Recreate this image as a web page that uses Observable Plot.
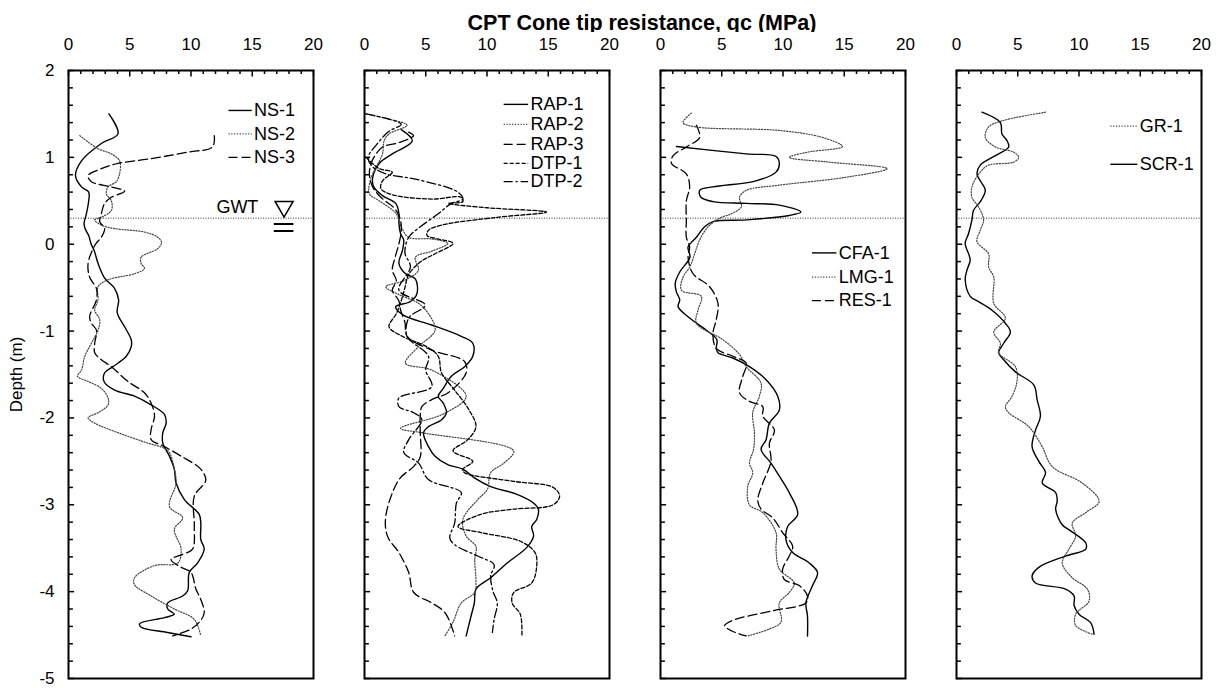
<!DOCTYPE html>
<html><head><meta charset="utf-8">
<script src="https://cdn.jsdelivr.net/npm/d3@7"></script>
<script src="https://cdn.jsdelivr.net/npm/@observablehq/plot@0.6"></script>
<style>
body{margin:0;background:#fff;font-family:Arial,"Liberation Sans",sans-serif;}
#wrap{position:relative;width:1219px;height:688px;}
#title{position:absolute;left:642px;top:11px;transform:translateX(-50%);font-weight:bold;font-size:21.5px;line-height:24px;white-space:nowrap;color:#000;}
#chart{position:absolute;left:0;top:32px;}
</style></head><body>
<div id="wrap">
<div id="title">CPT Cone tip resistance, qc (MPa)</div>
<div id="chart"></div>
</div>
<script>
// ---- data: [qc (MPa), depth (m)] ----
const NS1 = [[3.3,1.50],[4.04,1.27],[2.68,1.16],[1.06,0.96],[0.57,0.79],[1.06,0.66],[1.65,0.60],[1.65,0.50],[1.46,0.35],[1.27,0.24],[1.35,0.18],[1.65,0.10],[1.85,0.0],[2.09,-0.07],[2.41,-0.22],[2.95,-0.39],[3.77,-0.51],[4.09,-0.64],[3.98,-0.79],[4.58,-0.95],[5.12,-1.10],[5.12,-1.18],[4.72,-1.29],[3.63,-1.41],[2.95,-1.48],[2.9,-1.58],[3.77,-1.68],[5.39,-1.75],[6.75,-1.85],[7.83,-1.96],[7.97,-2.06],[7.7,-2.17],[7.7,-2.29],[8.24,-2.44],[8.64,-2.59],[8.78,-2.75],[9.46,-2.94],[10.67,-3.11],[10.8,-3.21],[10.8,-3.40],[11.08,-3.51],[10.54,-3.67],[9.86,-3.78],[9.73,-3.99],[9.32,-4.05],[8.1,-4.13],[8.1,-4.20],[8.64,-4.26],[7.83,-4.30],[5.8,-4.37],[5.93,-4.41],[8.1,-4.47],[10.0,-4.52]];
const NS2 = [[0.92,1.25],[2.41,1.10],[3.5,1.04],[4.17,0.96],[4.17,0.81],[3.9,0.72],[3.23,0.66],[3.09,0.58],[3.5,0.50],[3.5,0.39],[2.68,0.31],[2.14,0.28],[2.68,0.22],[3.77,0.18],[6.2,0.14],[7.29,0.08],[7.6,0.02],[7.29,-0.05],[5.93,-0.15],[5.93,-0.22],[6.2,-0.28],[5.39,-0.34],[3.23,-0.41],[2.41,-0.49],[2.41,-0.64],[2.14,-0.76],[2.55,-0.87],[2.41,-0.99],[1.87,-1.14],[1.33,-1.29],[1.06,-1.45],[0.73,-1.52],[1.6,-1.58],[2.68,-1.66],[3.23,-1.77],[3.23,-1.85],[2.55,-1.93],[1.6,-2.0],[2.14,-2.06],[4.04,-2.17],[6.48,-2.29],[7.83,-2.35],[8.24,-2.40],[8.64,-2.59],[8.78,-2.75],[8.24,-3.02],[9.32,-3.15],[8.64,-3.28],[9.19,-3.51],[8.92,-3.67],[7.02,-3.70],[5.39,-3.84],[5.39,-3.92],[6.75,-4.05],[8.64,-4.20],[10.27,-4.32],[10.8,-4.51]];
const NS3 = [[11.9,1.25],[11.76,1.12],[9.73,1.06],[6.48,0.98],[4.04,0.93],[2.68,0.87],[1.6,0.79],[1.87,0.72],[3.5,0.66],[4.58,0.61],[3.5,0.54],[2.95,0.47],[2.68,0.35],[2.55,0.26],[2.95,0.18],[2.68,0.08],[2.2,0.0],[1.6,-0.22],[1.73,-0.38],[2.28,-0.51],[2.28,-0.64],[1.73,-0.83],[1.87,-0.91],[2.28,-0.99],[2.14,-1.14],[2.14,-1.25],[2.68,-1.33],[3.5,-1.41],[4.85,-1.58],[6.2,-1.71],[6.75,-1.83],[7.02,-1.98],[6.75,-2.13],[6.75,-2.25],[7.83,-2.33],[9.19,-2.44],[10.8,-2.59],[11.2,-2.72],[10.27,-2.90],[10.27,-3.25],[10.13,-3.51],[9.32,-3.57],[8.37,-3.63],[9.19,-3.72],[10.0,-3.78],[10.4,-3.97],[10.8,-4.09],[11.08,-4.24],[10.8,-4.33],[10.0,-4.43],[8.51,-4.51]];

const RAP1 = [[3.0,1.32],[3.9,1.19],[2.27,1.04],[1.2,0.93],[0.67,0.77],[0.75,0.66],[1.47,0.56],[2.55,0.47],[2.81,0.35],[2.81,0.24],[2.95,0.12],[3.2,0.05],[3.1,-0.07],[2.81,-0.22],[3.35,-0.34],[4.15,-0.40],[4.28,-0.57],[3.75,-0.66],[2.55,-0.72],[3.2,-0.82],[5.49,-0.93],[7.9,-1.06],[8.84,-1.14],[8.84,-1.29],[8.17,-1.41],[7.09,-1.52],[6.43,-1.66],[6.02,-1.75],[6.43,-1.83],[6.69,-1.94],[6.3,-2.02],[5.22,-2.10],[4.82,-2.17],[5.22,-2.33],[5.76,-2.44],[6.83,-2.54],[8.03,-2.59],[8.97,-2.69],[10.3,-2.79],[12.45,-2.88],[13.8,-2.98],[14.19,-3.05],[14.06,-3.17],[13.65,-3.25],[13.8,-3.36],[13.25,-3.49],[11.65,-3.67],[10.3,-3.84],[9.1,-3.97],[8.97,-4.13],[8.7,-4.28],[8.3,-4.51]];
const RAP2 = [[0.1,1.50],[2.0,1.44],[3.48,1.37],[2.0,1.27],[1.6,1.19],[1.47,1.04],[1.0,0.9],[0.5,0.75],[0.4,0.58],[1.2,0.5],[2.6,0.35],[3.0,0.2],[3.6,0.08],[5.5,0.06],[6.8,0.01],[5.5,-0.08],[4.15,-0.15],[4.4,-0.30],[3.2,-0.42],[1.74,-0.49],[2.8,-0.58],[4.4,-0.68],[5.22,-0.80],[5.76,-0.99],[4.4,-1.18],[3.35,-1.37],[5.5,-1.45],[8.3,-1.75],[6.5,-1.95],[2.95,-2.12],[4.68,-2.17],[12.18,-2.38],[11.38,-2.52],[10.3,-2.63],[10.04,-2.82],[9.24,-2.94],[8.03,-3.17],[8.3,-3.36],[9.1,-3.48],[9.0,-3.63],[9.1,-3.89],[9.0,-4.01],[7.9,-4.13],[7.23,-4.35],[6.56,-4.51]];
const RAP3 = [[3.6,1.29],[4.0,1.25],[2.81,1.17],[1.47,1.12],[0.9,1.03],[0.54,0.93],[0.4,0.8],[0.7,0.65],[1.5,0.52],[2.4,0.42],[2.9,0.3],[3.0,0.15],[2.8,0.0],[2.5,-0.15],[2.27,-0.30],[2.6,-0.42],[2.27,-0.53],[2.8,-0.65],[2.95,-0.76],[3.3,-0.9],[3.48,-1.06],[5.49,-1.22],[8.17,-1.35],[8.3,-1.48],[6.83,-1.71],[5.49,-1.79],[4.68,-1.87],[4.55,-1.98],[4.55,-2.17],[4.55,-2.45],[4.0,-2.56],[2.81,-2.71],[1.74,-3.13],[1.87,-3.36],[2.81,-3.55],[3.61,-3.78],[4.02,-4.01],[5.49,-4.13],[6.56,-4.24],[7.23,-4.45],[7.36,-4.51]];
const DTP1 = [[0.13,1.0],[1.2,0.87],[2.27,0.83],[1.47,0.73],[1.34,0.64],[2.27,0.57],[5.49,0.52],[7.9,0.54],[8.03,0.49],[6.83,0.47],[10.0,0.42],[14.86,0.37],[10.84,0.31],[6.29,0.22],[5.22,0.16],[5.1,0.10],[6.02,0.06],[7.23,0.01],[5.76,-0.11],[4.6,-0.2],[3.6,-0.35],[3.3,-0.5],[3.0,-0.65],[2.6,-0.8],[2.0,-0.95],[3.08,-1.06],[5.09,-1.18],[6.02,-1.29],[6.29,-1.48],[7.36,-1.68],[8.5,-1.9],[9.1,-2.10],[8.43,-2.25],[7.23,-2.38],[8.84,-2.50],[8.03,-2.59],[8.17,-2.63],[12.18,-2.73],[15.4,-2.80],[15.93,-2.90],[15.4,-3.0],[12.18,-3.05],[9.5,-3.11],[7.63,-3.25],[9.5,-3.32],[12.72,-3.42],[13.92,-3.55],[14.06,-3.70],[13.65,-3.90],[12.18,-4.01],[12.05,-4.13],[12.72,-4.26],[12.85,-4.51]];
const DTP2 = [[0.1,1.5],[2.0,1.44],[3.0,1.38],[2.0,1.3],[1.0,1.15],[0.3,1.0],[0.6,0.9],[1.74,0.81],[4.15,0.75],[7.63,0.60],[8.03,0.52],[7.09,0.47],[6.02,0.35],[4.55,0.20],[3.61,0.08],[3.3,-0.1],[3.75,-0.26],[2.81,-0.53],[4.95,-0.70],[3.61,-0.85],[3.48,-1.06],[5.22,-1.29],[5.0,-1.45],[5.49,-1.64],[2.81,-1.77],[2.81,-1.87],[4.02,-1.94],[4.68,-2.02],[3.61,-2.25],[3.21,-2.40],[4.42,-2.52],[5.22,-2.71],[7.9,-2.86],[7.5,-2.98],[7.36,-3.21],[6.96,-3.38],[7.36,-3.46],[9.24,-3.59],[10.58,-3.69],[10.3,-3.82],[10.5,-4.0],[10.84,-4.13],[10.58,-4.32],[10.44,-4.47]];

const CFA1 = [[1.3,1.125],[7.0,1.04],[9.43,1.01],[9.7,0.93],[9.43,0.83],[7.8,0.73],[4.28,0.66],[3.2,0.62],[3.3,0.54],[4.28,0.49],[7.0,0.47],[9.7,0.45],[11.46,0.37],[10.5,0.33],[7.0,0.28],[4.28,0.26],[3.6,0.20],[2.93,0.08],[2.25,-0.03],[2.4,-0.15],[1.57,-0.32],[1.2,-0.45],[1.3,-0.55],[1.57,-0.64],[1.44,-0.72],[2.38,-0.85],[3.74,-0.99],[4.6,-1.1],[4.55,-1.2],[4.69,-1.25],[5.91,-1.31],[7.26,-1.41],[8.62,-1.56],[9.57,-1.75],[9.7,-1.91],[8.89,-2.06],[8.62,-2.25],[8.21,-2.36],[9.02,-2.52],[9.7,-2.67],[10.51,-2.86],[11.2,-3.11],[10.38,-3.25],[10.24,-3.40],[10.79,-3.55],[12.14,-3.67],[12.82,-3.78],[12.41,-3.93],[11.87,-4.13],[12.0,-4.28],[12.0,-4.51]];
const LMG1 = [[2.52,1.51],[1.84,1.40],[2.93,1.35],[9.7,1.31],[13.2,1.23],[14.85,1.125],[12.0,1.06],[10.51,1.0],[13.76,0.945],[18.5,0.87],[15.1,0.77],[9.7,0.68],[7.0,0.62],[6.45,0.54],[6.6,0.43],[5.77,0.35],[4.82,0.30],[3.88,0.20],[3.2,0.05],[2.79,-0.11],[2.4,-0.26],[1.84,-0.38],[1.71,-0.53],[3.33,-0.60],[3.06,-0.76],[2.93,-0.91],[5.1,-1.10],[6.45,-1.27],[7.0,-1.41],[8.21,-1.60],[8.07,-1.75],[7.53,-1.94],[7.67,-2.17],[7.6,-2.36],[7.26,-2.52],[7.53,-2.63],[7.12,-2.79],[7.26,-3.0],[8.35,-3.09],[9.43,-3.32],[9.43,-3.51],[9.7,-3.74],[10.92,-3.90],[10.51,-4.01],[9.7,-4.13],[9.84,-4.35],[8.89,-4.43],[7.13,-4.51]];
const RES1 = [[2.93,1.37],[3.2,1.23],[2.11,1.12],[1.03,1.02],[0.9,0.93],[2.11,0.81],[2.38,0.66],[2.11,0.50],[2.11,0.28],[2.11,0.08],[2.38,-0.03],[2.25,-0.15],[2.66,-0.34],[4.01,-0.49],[4.69,-0.68],[4.55,-0.87],[4.28,-1.03],[4.55,-1.20],[5.91,-1.29],[7.0,-1.37],[6.72,-1.52],[6.45,-1.71],[7.26,-1.81],[8.35,-1.87],[8.35,-1.98],[9.3,-2.14],[8.89,-2.29],[9.02,-2.50],[8.35,-2.75],[7.94,-2.95],[8.21,-3.05],[9.16,-3.15],[9.97,-3.32],[10.79,-3.48],[10.51,-3.59],[9.97,-3.74],[10.11,-3.86],[11.33,-3.93],[12.0,-4.05],[11.87,-4.13],[9.16,-4.22],[5.91,-4.33],[5.23,-4.39],[5.77,-4.45],[7.0,-4.51]];

const GR1 = [[7.27,1.52],[3.71,1.42],[2.62,1.35],[2.35,1.23],[3.17,1.12],[4.67,1.06],[5.08,1.0],[4.67,0.945],[2.62,0.91],[1.94,0.83],[1.26,0.66],[1.26,0.54],[1.8,0.43],[2.21,0.28],[1.94,0.16],[1.67,0.03],[2.62,-0.11],[2.62,-0.26],[3.04,-0.38],[3.04,-0.68],[3.99,-0.85],[3.04,-1.01],[3.58,-1.14],[3.44,-1.25],[4.81,-1.41],[4.94,-1.58],[4.54,-1.75],[3.99,-1.87],[4.26,-1.94],[5.9,-2.10],[6.99,-2.33],[7.81,-2.56],[10.27,-2.75],[11.64,-2.96],[10.55,-3.09],[9.45,-3.21],[9.73,-3.36],[9.18,-3.51],[8.63,-3.67],[9.45,-3.84],[10.68,-3.97],[10.82,-4.11],[9.73,-4.26],[9.73,-4.39],[11.09,-4.49]];
const SCR1 = [[2.08,1.52],[3.58,1.40],[3.71,1.27],[4.13,1.19],[4.26,1.12],[3.17,1.02],[1.94,0.91],[1.67,0.81],[1.94,0.73],[2.35,0.62],[1.94,0.49],[1.39,0.39],[1.26,0.28],[0.98,0.12],[0.71,0.01],[1.12,-0.18],[0.85,-0.30],[0.71,-0.41],[1.12,-0.60],[1.8,-0.66],[2.9,-0.76],[3.99,-0.91],[4.4,-1.01],[3.85,-1.14],[3.44,-1.25],[3.85,-1.33],[4.81,-1.47],[6.31,-1.62],[6.58,-1.79],[6.85,-1.98],[6.45,-2.14],[6.17,-2.33],[6.72,-2.50],[7.27,-2.63],[7.0,-2.75],[8.09,-2.86],[8.22,-2.96],[8.09,-3.05],[8.63,-3.23],[9.32,-3.30],[10.55,-3.44],[10.55,-3.51],[8.9,-3.59],[6.72,-3.72],[6.17,-3.82],[6.45,-3.90],[8.9,-3.97],[9.6,-4.05],[9.6,-4.16],[10.0,-4.26],[10.96,-4.36],[11.23,-4.49]];

// series metadata
const SERIES_NAMES  = ["NS-1","NS-2","NS-3","RAP-1","RAP-2","RAP-3","DTP-1","DTP-2","CFA-1","LMG-1","RES-1","GR-1","SCR-1"];
const SERIES_DATA   = [NS1,NS2,NS3,RAP1,RAP2,RAP3,DTP1,DTP2,CFA1,LMG1,RES1,GR1,SCR1];
const SERIES_PANEL  = [1,1,1,2,2,2,2,2,3,3,3,4,4];
const SERIES_STYLE  = ["solid","dotted","longdash","solid","dotted","longdash","shortdash","dashdot","solid","dotted","longdash","dotted","solid"];
const LEGEND_DEPTH  = [1.54,1.27,1.0,1.61,1.38,1.15,0.93,0.72,-0.10,-0.38,-0.65,1.36,0.92];
const LEGEND_X1 = [13.1,11.4,12.4,12.6];   // by panel
const LEGEND_X2 = [15.0,13.4,14.4,14.8];

const X_TICKS = [0,5,10,15,20];
const Y_TICKS = [-5,-4,-3,-2,-1,0,1,2];
const GWT_DEPTH = 0.3;

// ---- build tables ----
const rows = SERIES_NAMES.flatMap((name,i) => SERIES_DATA[i].map(([q,z]) => ({series:name, panel:SERIES_PANEL[i], style:SERIES_STYLE[i], q, z})));
const legend = SERIES_NAMES.map((name,i) => ({series:name, panel:SERIES_PANEL[i], style:SERIES_STYLE[i], y:LEGEND_DEPTH[i],
  x1:LEGEND_X1[SERIES_PANEL[i]-1], x2:LEGEND_X2[SERIES_PANEL[i]-1], xt:LEGEND_X2[SERIES_PANEL[i]-1]+0.15}));

const STYLES = {
  solid:{stroke:"#000", strokeWidth:1.4},
  dotted:{stroke:"#444", strokeWidth:1.2, strokeDasharray:"1.2,1.6"},
  longdash:{stroke:"#000", strokeWidth:1.3, strokeDasharray:"9,4"},
  shortdash:{stroke:"#000", strokeWidth:1.3, strokeDasharray:"4,2"},
  dashdot:{stroke:"#000", strokeWidth:1.3, strokeDasharray:"9,3,2,3"}
};
const styleNames = Object.keys(STYLES);

const topTicks = d3.range(0,21);
const leftTicks = d3.range(-25,11).map(i => i/5);

const gwt = [{panel:1}];

const marks = [
  Plot.ruleY([GWT_DEPTH], {stroke:"#333", strokeWidth:1, strokeDasharray:"1,1.5"}),
  ...styleNames.map(s => Plot.line(rows.filter(r => r.style===s), {x:"q", y:"z", z:"series", fx:"panel", curve:"catmull-rom", ...STYLES[s]})),
  ...styleNames.map(s => Plot.ruleY(legend.filter(r => r.style===s), {y:"y", x1:"x1", x2:"x2", fx:"panel", ...STYLES[s]})),
  Plot.text(legend, {x:"xt", y:"y", text:"series", fx:"panel", textAnchor:"start", fontSize:18, fill:"#000"}),
  // GWT annotation
  Plot.text(gwt, {x:15.5, y:0.42, text:() => "GWT", fx:"panel", textAnchor:"end", fontSize:18, fill:"#000"}),
  Plot.dot(gwt, {x:17.6, y:0.432, fx:"panel", symbol:"triangle", rotate:180, r:6.7, stroke:"#000", strokeWidth:1.5, fill:"#fff"}),
  Plot.ruleY(gwt, {y:0.233, x1:16.8, x2:18.4, fx:"panel", stroke:"#000", strokeWidth:2}),
  Plot.ruleY(gwt, {y:0.152, x1:16.8, x2:18.4, fx:"panel", stroke:"#000", strokeWidth:2}),
  // inward ticks
  Plot.ruleX(topTicks, {x:d=>d, y1:2, y2:d => 2 - (d%5===0 ? 0.075 : 0.046), stroke:"#000", strokeWidth:1.5}),
  Plot.ruleY(leftTicks, {y:d=>d, x1:0, x2:d => (Math.abs(d - Math.round(d))<1e-9 ? 0.5 : 0.4), stroke:"#000", strokeWidth:1.5}),
  Plot.frame({stroke:"#000", strokeWidth:2})
];

const chart = Plot.plot({
  width:1219, height:656,
  marginTop:38, marginBottom:10, marginLeft:67, marginRight:17,
  style:{fontFamily:"Arial, 'Liberation Sans', sans-serif", fontSize:"17px", color:"#000", background:"#fff"},
  fx:{axis:null, paddingInner:0.172, paddingOuter:0},
  x:{domain:[0,20], axis:"top", ticks:X_TICKS, tickSize:0, tickPadding:21, label:null},
  y:{domain:[-5,2], ticks:Y_TICKS, tickSize:0, tickPadding:14, tickFormat:d => String(d), label:"Depth (m)", labelAnchor:"center", labelOffset:59, labelArrow:"none"},
  marks
});
document.getElementById("chart").appendChild(chart);
</script>
</body></html>
